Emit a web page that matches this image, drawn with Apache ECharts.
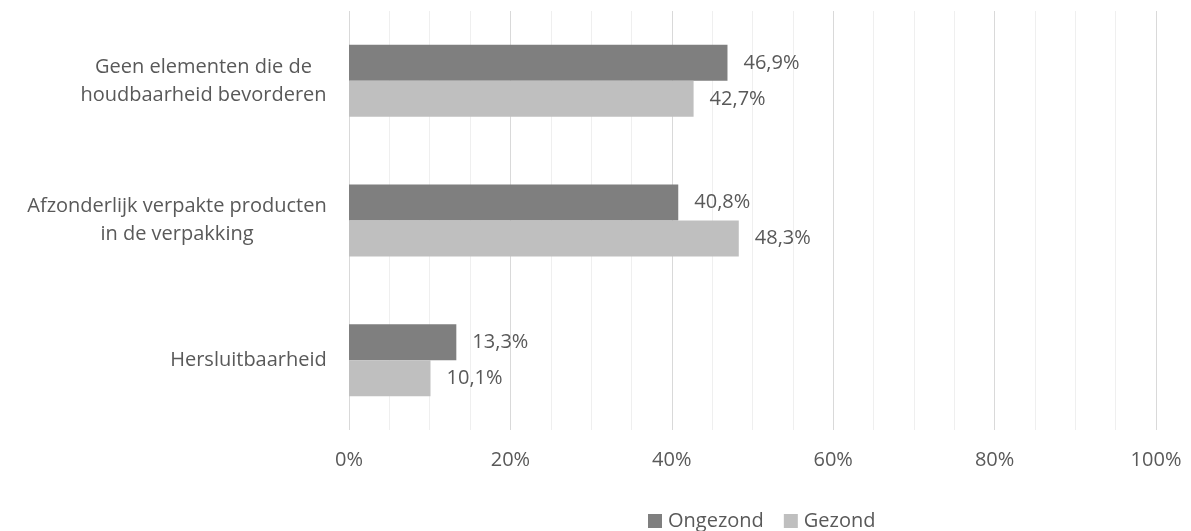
<!DOCTYPE html>
<html>
<head>
<meta charset="utf-8">
<script src="https://cdn.jsdelivr.net/npm/echarts@6/dist/echarts.min.js"></script>
<style>
  html, body { margin: 0; padding: 0; background: #fff; }
  #chart { width: 1191px; height: 531px; }
</style>
</head>
<body>
<div id="chart"></div>
<script>
// Categories, top to bottom
const categories = [
  'Geen elementen die de\nhoudbaarheid bevorderen',
  'Afzonderlijk verpakte producten\nin de verpakking',
  'Hersluitbaarheid'
];
const seriesNames = ['Ongezond', 'Gezond'];
const ongezond = [46.9, 40.8, 13.3];
const gezond = [42.7, 48.3, 10.1];
const xTicks = [0, 20, 40, 60, 80, 100];

const FONT = '"Open Sans", sans-serif';
const TEXT = '#595959';
const FS = 20;

// Multi-line category labels: block right-aligned, lines centered inside the block
const ctx = document.createElement('canvas').getContext('2d');
ctx.font = FS + 'px ' + FONT;
const rich = {};
categories.forEach((c, i) => {
  const w = Math.max(...c.split('\n').map(l => ctx.measureText(l).width));
  rich['c' + i] = { width: Math.ceil(w), align: 'center', fontSize: FS, fontFamily: FONT, color: TEXT, lineHeight: 28 };
});

const pct = v => v.toFixed(1).replace('.', ',') + '%';

const chart = echarts.init(document.getElementById('chart'));
chart.setOption({
  animation: false,
  textStyle: { fontFamily: FONT, color: TEXT },
  grid: { left: 349, right: 35, top: 11, bottom: 101, containLabel: false },
  legend: {
    top: 506,
    left: 643,
    data: seriesNames,
    icon: 'rect',
    itemWidth: 14,
    itemHeight: 14,
    itemGap: 20,
    textStyle: { fontSize: FS, color: TEXT, fontFamily: FONT, padding: [0, 0, 0, 1] }
  },
  xAxis: {
    type: 'value',
    min: 0,
    max: 100,
    interval: 20,
    axisLine: { show: false },
    axisTick: { show: false },
    axisLabel: {
      formatter: v => xTicks.includes(v) ? v + '%' : '',
      fontSize: FS, color: TEXT, fontFamily: FONT, margin: 20
    },
    splitLine: { show: true, lineStyle: { color: '#d9d9d9', width: 1 } },
    minorTick: { show: false, splitNumber: 4 },
    minorSplitLine: { show: true, lineStyle: { color: '#efefef', width: 1 } }
  },
  yAxis: {
    type: 'category',
    data: categories,
    inverse: true,
    axisLine: { show: false },
    axisTick: { show: false },
    splitLine: { show: false },
    axisLabel: {
      margin: 22,
      align: 'right',
      formatter: (val, idx) => val.split('\n').map(l => '{c' + idx + '|' + l + '}').join('\n'),
      rich: rich
    }
  },
  series: [
    {
      name: seriesNames[0], type: 'bar', data: ongezond,
      barWidth: 36, barGap: '0%',
      itemStyle: { color: '#7f7f7f' },
      label: { show: true, position: 'right', distance: 16, formatter: p => pct(p.value), fontSize: FS, color: TEXT, fontFamily: FONT }
    },
    {
      name: seriesNames[1], type: 'bar', data: gezond,
      barWidth: 36, barGap: '0%',
      itemStyle: { color: '#bfbfbf' },
      label: { show: true, position: 'right', distance: 16, formatter: p => pct(p.value), fontSize: FS, color: TEXT, fontFamily: FONT }
    }
  ]
});
</script>
</body>
</html>
